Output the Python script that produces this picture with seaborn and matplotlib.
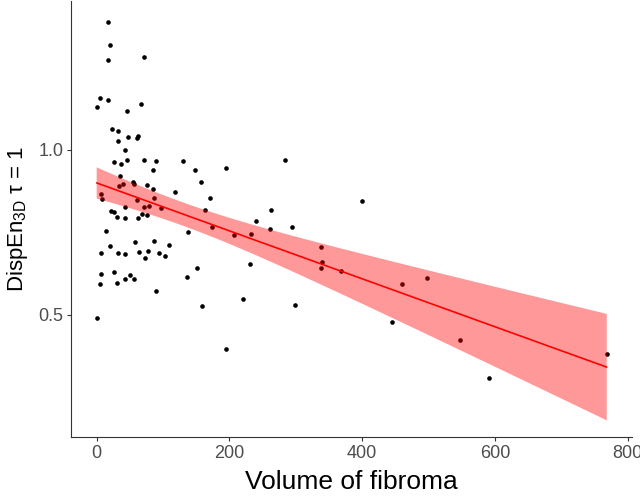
import matplotlib
matplotlib.use('Agg')
import matplotlib.pyplot as plt
import numpy as np
import pandas as pd
import seaborn as sns

# valores
volume = [17.0, 21.0, 17.9, 72.2, 5.0, 17.0, 0.5, 46.6, 66.8, 23.1,
          32.6, 47.6, 62.3, 61.2, 31.8, 42.4, 26.5, 37.1, 45.7, 71.8,
          89.9, 129.5, 85.0, 148.7, 36.0, 156.7, 54.4, 56.4, 39.1, 34.1,
          76.3, 85.6, 118.8, 6.9, 8.4, 170.2, 61.2, 85.8, 71.0, 78.3,
          43.1, 97.7, 22.0, 26.1, 162.7, 68.3, 76.3, 30.6, 43.6, 62.7,
          14.8, 137.4, 58.2, 86.1, 21.0, 108.4, 6.2, 31.8, 43.4, 64.7,
          77.5, 93.6, 73.3, 103.1, 26.2, 7.2, 49.9, 151.2, 5.1, 30.6,
          43.6, 57.1, 136.2, 90.2, 158.8, 0.2, 195.0, 283.3, 262.8, 400.0,
          239.6, 173.2, 261.8, 293.9, 207.5, 232.1, 337.6, 340.2, 337.6, 368.8,
          231.1, 220.6, 299.5, 445.3, 195.0, 460.3, 497.4, 546.7, 591.5, 768.4]
dispen = [1.388, 1.318, 1.273, 1.283, 1.158, 1.152, 1.129, 1.119, 1.138, 1.062,
          1.057, 1.040, 1.043, 1.035, 1.027, 0.999, 0.963, 0.956, 0.969, 0.971,
          0.967, 0.967, 0.939, 0.939, 0.922, 0.902, 0.903, 0.898, 0.896, 0.890,
          0.895, 0.881, 0.873, 0.865, 0.851, 0.854, 0.849, 0.853, 0.826, 0.831,
          0.828, 0.825, 0.816, 0.813, 0.817, 0.807, 0.802, 0.798, 0.795, 0.795,
          0.755, 0.751, 0.722, 0.725, 0.708, 0.711, 0.687, 0.689, 0.685, 0.692,
          0.695, 0.689, 0.674, 0.678, 0.631, 0.625, 0.622, 0.642, 0.595, 0.597,
          0.610, 0.608, 0.614, 0.571, 0.528, 0.492, 0.945, 0.971, 0.817, 0.845,
          0.786, 0.766, 0.760, 0.766, 0.742, 0.746, 0.706, 0.661, 0.643, 0.633,
          0.655, 0.549, 0.531, 0.477, 0.398, 0.593, 0.612, 0.424, 0.310, 0.383]

x_ticks = [0, 200, 400, 600, 800]
y_ticks = [0.5, 1.0]
y_ticklabels = ['0.5', '1.0']

df = pd.DataFrame({'volume': volume, 'dispen': dispen})


def banda_lm(x, y, grid, t=1.9845):
    '''intervalo de confianza 95% de la recta (como geom_smooth method=lm)'''
    x = np.asarray(x)
    y = np.asarray(y)
    n = len(x)
    b, a = np.polyfit(x, y, 1)
    resid = y - (a + b * x)
    s = np.sqrt((resid ** 2).sum() / (n - 2))
    sxx = ((x - x.mean()) ** 2).sum()
    se = s * np.sqrt(1 / n + (grid - x.mean()) ** 2 / sxx)
    fit = a + b * grid
    return fit - t * se, fit + t * se


sns.set_style('ticks')
plt.rcParams['font.family'] = ['Liberation Sans', 'DejaVu Sans']
plt.rcParams['mathtext.fontset'] = 'custom'
plt.rcParams['mathtext.rm'] = 'Liberation Sans'
plt.rcParams['mathtext.it'] = 'Liberation Sans:italic'

fig = plt.figure(figsize=(6.4, 4.96), dpi=100)
ax = fig.add_axes([0.111, 0.119, 0.8765, 0.879])

sns.regplot(data=df, x='volume', y='dispen', ax=ax, ci=None, truncate=True,
            scatter_kws={'s': 11, 'color': 'black', 'alpha': 1, 'linewidths': 0},
            line_kws={'color': 'red', 'lw': 1.2, 'zorder': 3})

grid = np.linspace(df['volume'].min(), df['volume'].max(), 100)
lo, hi = banda_lm(df['volume'], df['dispen'], grid)
ax.fill_between(grid, lo, hi, facecolor='red', alpha=0.4, edgecolor='none', zorder=2)

ax.set_xlim(-38.4, 806.4)
ax.set_ylim(0.130, 1.4515)
ax.set_xticks(x_ticks)
ax.set_yticks(y_ticks)
ax.set_yticklabels(y_ticklabels)

ax.tick_params(axis='both', labelsize=13, labelcolor='#4D4D4D', color='#333333',
               length=3, width=0.8, pad=2.5)
for lado in ['left', 'bottom']:
    ax.spines[lado].set_color('#333333')
    ax.spines[lado].set_linewidth(0.8)
sns.despine(ax=ax)

ax.set_xlabel('Volume of fibroma', fontsize=19, color='black', labelpad=6)
ax.set_ylabel(r'DispEn$_{\mathregular{3D}}$ τ = 1', fontsize=16, color='black', labelpad=6)

fig.savefig('out.png', dpi=100)
